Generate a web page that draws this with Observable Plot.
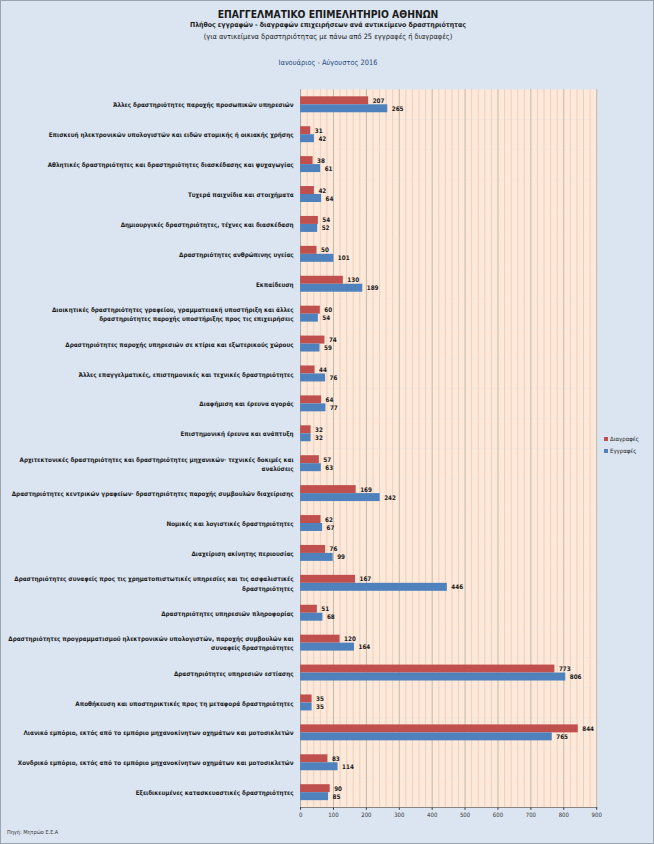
<!DOCTYPE html>
<html>
<head>
<meta charset="utf-8">
<script src="https://cdn.jsdelivr.net/npm/d3@7"></script>
<script src="https://cdn.jsdelivr.net/npm/@observablehq/plot@0.6"></script>
<style>
  html, body { margin: 0; padding: 0; background: #dbe5f1; }
  #page { position: relative; width: 654px; height: 844px; box-sizing: border-box; border: 1px solid #9aa3ae; background: #dbe5f1; overflow: hidden; font-family: "Liberation Sans Narrow", "DejaVu Sans Condensed", "Liberation Sans", sans-serif; color: #1a1a1a; }
  .hd { position: absolute; left: 0; width: 654px; text-align: center; white-space: nowrap; }
  #t1 { top: 7px; font-size: 10.3px; font-weight: bold; }
  #t2 { top: 20px; font-size: 6.9px; font-weight: bold; }
  #t3 { top: 31px; font-size: 7.4px; }
  #t4 { top: 57px; font-size: 7.4px; color: #1f497d; }
  #chart { position: absolute; left: 0; top: 70px; }
  #src { position: absolute; left: 6px; top: 828px; font-size: 5.5px; color: #333; }
  #legend { position: absolute; left: 603px; top: 432px; font-size: 6px; line-height: 12px; }
  #legend .sw { display: inline-block; width: 4px; height: 4px; margin-right: 2px; vertical-align: middle; }
</style>
</head>
<body>
<div id="page">
  <div class="hd" id="t1">ΕΠΑΓΓΕΛΜΑΤΙΚΟ ΕΠΙΜΕΛΗΤΗΡΙΟ ΑΘΗΝΩΝ</div>
  <div class="hd" id="t2">Πλήθος εγγραφών - διαγραφών επιχειρήσεων ανά αντικείμενο δραστηριότητας</div>
  <div class="hd" id="t3">(για αντικείμενα δραστηριότητας με πάνω από 25 εγγραφές ή διαγραφές)</div>
  <div class="hd" id="t4">Ιανουάριος - Αύγουστος 2016</div>
  <div id="chart"></div>
  <div id="legend"></div>
  <div id="src">Πηγή: Μητρώο Ε.Ε.Α</div>
</div>
<script>
const categories = [
  "Άλλες δραστηριότητες παροχής προσωπικών υπηρεσιών",
  "Επισκευή ηλεκτρονικών υπολογιστών και ειδών ατομικής ή οικιακής χρήσης",
  "Αθλητικές δραστηριότητες και δραστηριότητες διασκέδασης και ψυχαγωγίας",
  "Τυχερά παιχνίδια και στοιχήματα",
  "Δημιουργικές δραστηριότητες, τέχνες και διασκέδαση",
  "Δραστηριότητες ανθρώπινης υγείας",
  "Εκπαίδευση",
  "Διοικητικές δραστηριότητες γραφείου, γραμματειακή υποστήριξη και άλλες\nδραστηριότητες παροχής υποστήριξης προς τις επιχειρήσεις",
  "Δραστηριότητες παροχής υπηρεσιών σε κτίρια και εξωτερικούς χώρους",
  "Άλλες επαγγελματικές, επιστημονικές και τεχνικές δραστηριότητες",
  "Διαφήμιση και έρευνα αγοράς",
  "Επιστημονική έρευνα και ανάπτυξη",
  "Αρχιτεκτονικές δραστηριότητες και δραστηριότητες μηχανικών· τεχνικές δοκιμές και\nαναλύσεις",
  "Δραστηριότητες κεντρικών γραφείων· δραστηριότητες παροχής συμβουλών διαχείρισης",
  "Νομικές και λογιστικές δραστηριότητες",
  "Διαχείριση ακίνητης περιουσίας",
  "Δραστηριότητες συναφείς προς τις χρηματοπιστωτικές υπηρεσίες και τις ασφαλιστικές\nδραστηριότητες",
  "Δραστηριότητες υπηρεσιών πληροφορίας",
  "Δραστηριότητες προγραμματισμού ηλεκτρονικών υπολογιστών, παροχής συμβουλών και\nσυναφείς δραστηριότητες",
  "Δραστηριότητες υπηρεσιών εστίασης",
  "Αποθήκευση και υποστηρικτικές προς τη μεταφορά δραστηριότητες",
  "Λιανικό εμπόριο, εκτός από το εμπόριο μηχανοκίνητων οχημάτων και μοτοσικλετών",
  "Χονδρικό εμπόριο, εκτός από το εμπόριο μηχανοκίνητων οχημάτων και μοτοσικλετών",
  "Εξειδικευμένες κατασκευαστικές δραστηριότητες"
];
const deletions = [207, 31, 38, 42, 54, 50, 130, 60, 74, 44, 64, 32, 57, 169, 62, 76, 167, 51, 120, 773, 35, 844, 83, 90];
const registrations = [265, 42, 61, 64, 52, 101, 189, 54, 59, 76, 77, 32, 63, 242, 67, 99, 446, 68, 164, 806, 35, 765, 114, 85];
const seriesNames = ["Διαγραφές", "Εγγραφές"];
const seriesColors = ["#c0504d", "#4f81bd"];
const xTicks = [0, 100, 200, 300, 400, 500, 600, 700, 800, 900];

const rows = [];
categories.forEach((c, i) => {
  rows.push({category: c, series: seriesNames[0], value: deletions[i]});
  rows.push({category: c, series: seriesNames[1], value: registrations[i]});
});
const minorTicks = d3.range(0, 901, 20).filter(v => v % 100 !== 0);

const plot = Plot.plot({
  width: 654,
  height: 769,
  marginLeft: 300,
  marginRight: 57,
  marginTop: 8.6,
  marginBottom: 20.6,
  style: {fontFamily: '"Liberation Sans Narrow", "DejaVu Sans Condensed", "Liberation Sans", sans-serif', fontSize: "6px", color: "#333", background: "transparent"},
  x: {domain: [0, 900], ticks: xTicks, tickSize: 3, label: null, line: true, tickPadding: 3},
  fy: {domain: categories, padding: 0, axis: null},
  y: {domain: seriesNames, paddingInner: 0, paddingOuter: 0.8, axis: null},
  color: {domain: seriesNames, range: seriesColors},
  marks: [
    Plot.frame({fill: "#fde9d9", stroke: null}),
    Plot.ruleX(minorTicks, {stroke: "#f1cdbd", strokeWidth: 1}),
    Plot.ruleX(xTicks.slice(1), {stroke: "#c9b6a6", strokeWidth: 1}),
    Plot.ruleX([0], {stroke: "#a6a6a6"}),
    Plot.barX(rows, {fy: "category", y: "series", x: "value", fill: "series"}),
    Plot.text(rows, {fy: "category", y: "series", x: "value", text: d => String(d.value), textAnchor: "start", dx: 4, fontSize: 6.3, fontWeight: "bold", fill: "#1a1a1a"}),
    Plot.text(categories, {fy: d => d, text: d => d, frameAnchor: "left", textAnchor: "end", dx: -7, fontSize: 6.3, fontWeight: "bold", fill: "#1a1a1a", lineHeight: 1.5, ariaLabel: "catlabels"})
  ]
});
document.getElementById("chart").appendChild(plot);

// center multi-line category labels on their widest line, keeping the block right-aligned
plot.querySelectorAll('g[aria-label="catlabels"] text').forEach(t => {
  const spans = t.querySelectorAll("tspan");
  if (spans.length > 1) {
    const w = t.getBBox().width;
    t.setAttribute("text-anchor", "middle");
    spans.forEach(s => s.setAttribute("x", (parseFloat(s.getAttribute("x")) || 0) - w / 2));
  }
});

const legend = document.getElementById("legend");
seriesNames.forEach((n, i) => {
  const row = document.createElement("div");
  const sw = document.createElement("span");
  sw.className = "sw";
  sw.style.background = seriesColors[i];
  row.appendChild(sw);
  row.appendChild(document.createTextNode(n));
  legend.appendChild(row);
});
</script>
</body>
</html>
